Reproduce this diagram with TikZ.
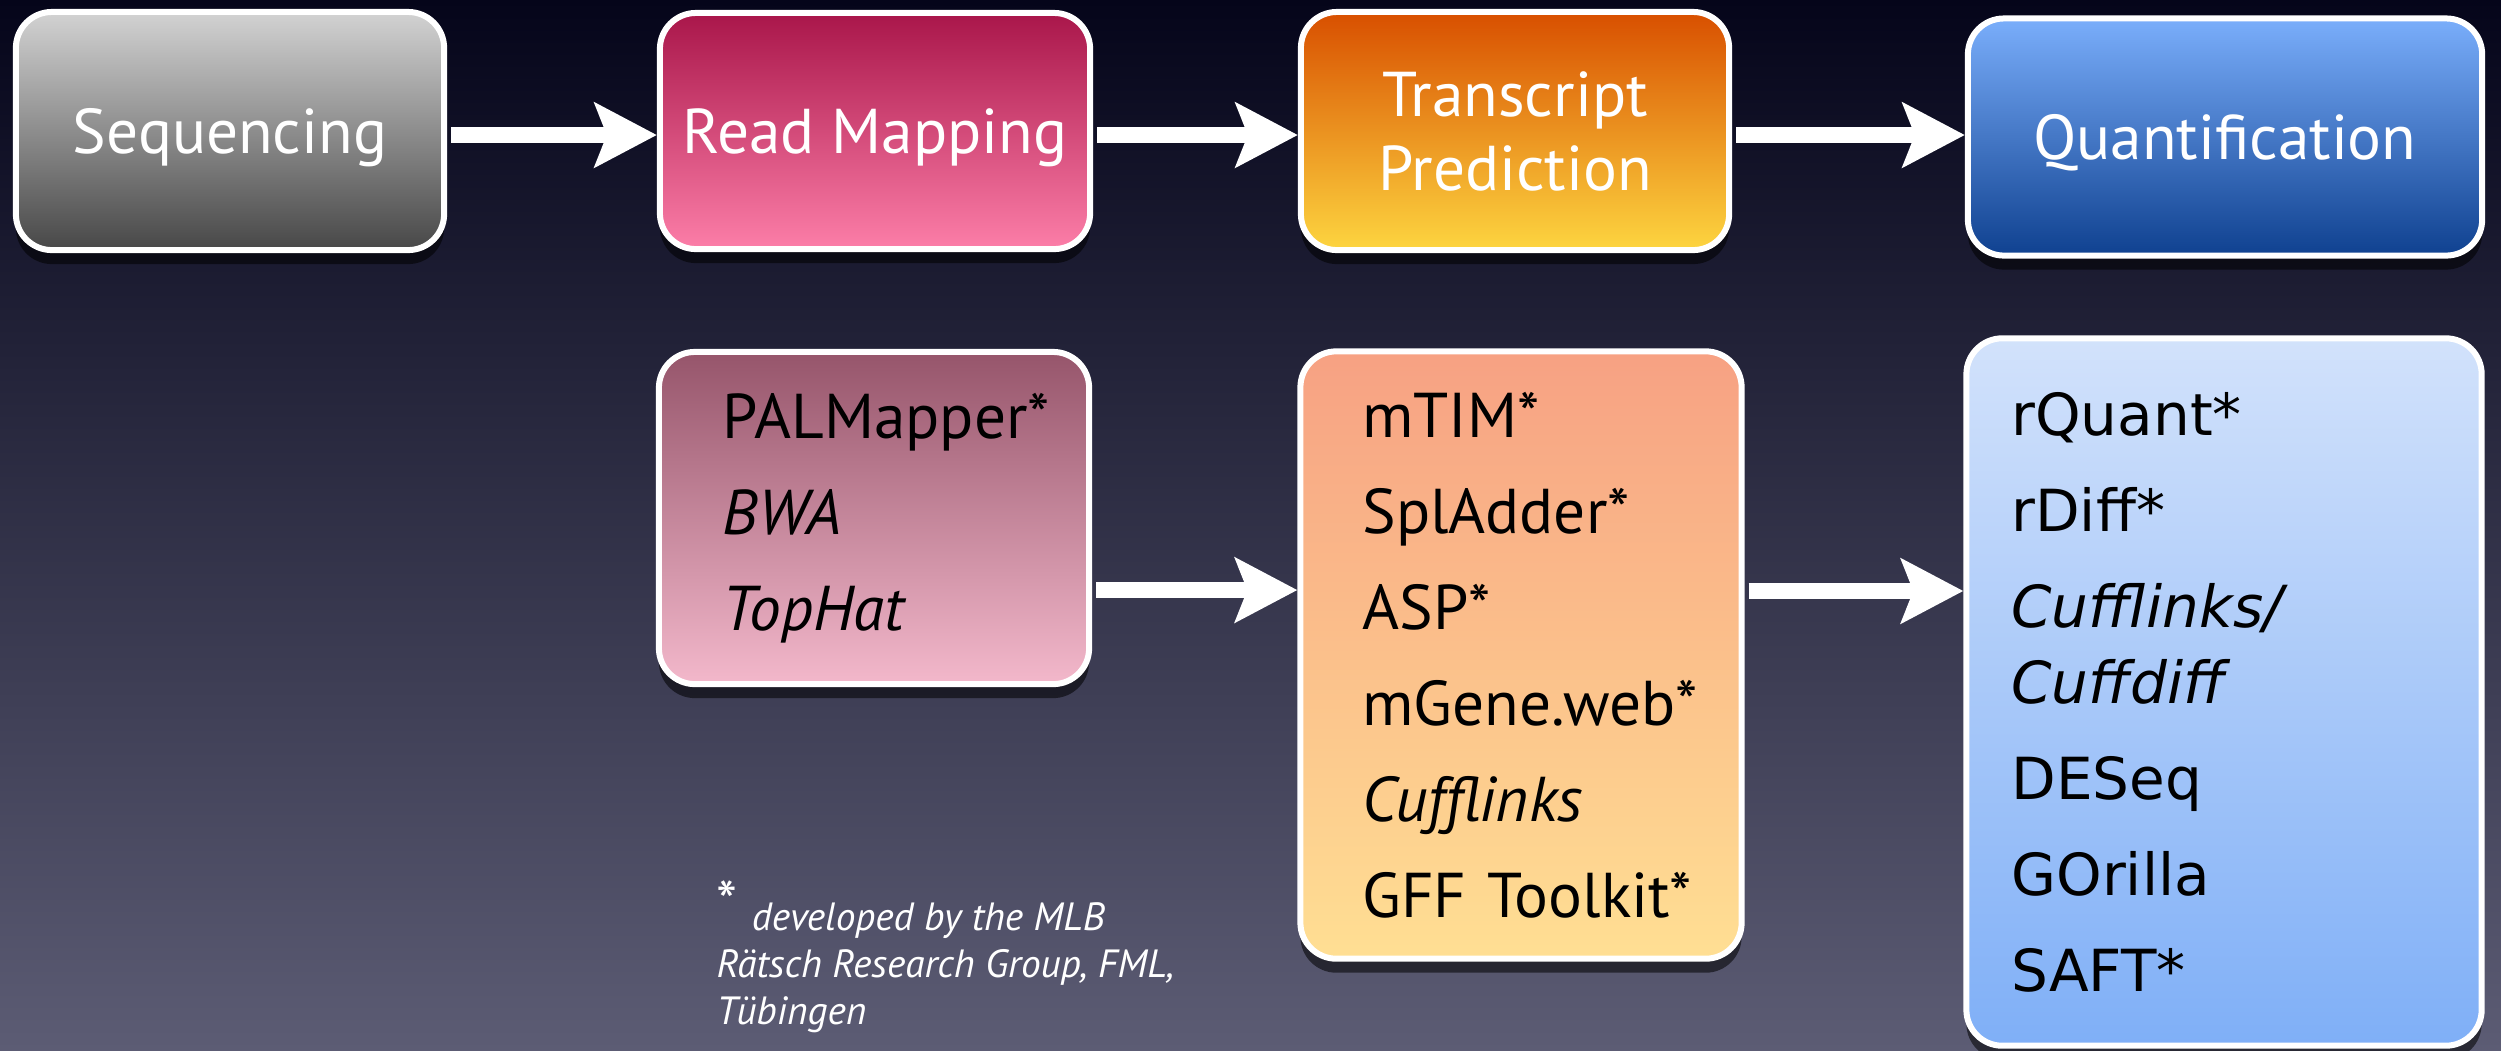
\documentclass[tikz,border=0pt]{standalone}
\usepackage{fontspec}
\setmainfont{PT Sans}
\newfontfamily\quantfamily{DejaVu Sans}
\usetikzlibrary{arrows.meta, calc, shadows}

\definecolor{bgtop}{HTML}{05051A}
\definecolor{bgmid}{HTML}{34344F}
\definecolor{bgbot}{HTML}{5C5C74}
\newcommand{\stagefont}{\fontsize{18}{21}\selectfont}
\newcommand{\toolfont}{\fontsize{18}{27.3}\selectfont}
\newcommand{\quantfont}{\quantfamily\fontsize{16.5}{27.3}\selectfont}
\newcommand{\notefont}{\fontsize{11.2}{13.4}\selectfont\itshape}

\begin{document}
\begin{tikzpicture}[x=0.01cm, y=-0.01cm, >=Stealth, line join=round,
	stage/.style={draw=white, line width=0.06cm, rounded corners=0.36cm, inner sep=0pt,
		text=white, align=center, font=\stagefont, text depth=0pt,
		drop shadow={shadow xshift=0cm, shadow yshift=-0.14cm, opacity=0.55, fill=black}},
	tools/.style={stage, text=black, align=left, font=\toolfont, text depth=},
	flow/.style={draw=white, line width=0.16cm, line cap=butt, shorten <=0.04cm,
		-{Stealth[length=0.62cm, width=0.64cm, inset=0.12cm]}}]

%========================
% background
%========================
\path[use as bounding box, top color=bgtop, middle color=bgmid, bottom color=bgbot]
	(0,0) rectangle (2501,1050);

%========================
% top row: pipeline stages
%========================
\node[stage, minimum width=4.28cm, minimum height=2.38cm,
	top color=gray!35, bottom color=black!72] (seq) at (230,131) {Sequencing};
\node[stage, minimum width=4.30cm, minimum height=2.36cm,
	top color={rgb,255:red,169;green,22;blue,74}, bottom color={rgb,255:red,252;green,126;blue,168}]
	(map) at (875,131) {Read Mapping};
\node[stage, minimum width=4.28cm, minimum height=2.38cm,
	top color={rgb,255:red,216;green,79;blue,0}, bottom color={rgb,255:red,253;green,213;blue,64}]
	(pred) at (1515,131) {Transcript\\Prediction};
\node[stage, minimum width=5.14cm, minimum height=2.37cm,
	top color={rgb,255:red,122;green,174;blue,251}, bottom color={rgb,255:red,15;green,65;blue,144}]
	(quant) at (2225,137) {Quantification};

% arrows between stages
\draw[flow] ([yshift=-0.04cm]seq.east) -- ([yshift=-0.04cm]seq.east -| map.west);
\draw[flow] ([yshift=-0.04cm]map.east) -- ([yshift=-0.04cm]map.east -| pred.west);
\draw[flow] ([yshift=-0.04cm]pred.east) -- ([yshift=-0.04cm]pred.east -| quant.west);

%========================
% bottom row: tools
%========================
\node[tools, minimum width=4.30cm, minimum height=3.32cm, text width=3.02cm, inner xsep=0.64cm,
	top color={rgb,255:red,150;green,85;blue,107}, bottom color={rgb,255:red,243;green,184;blue,203}]
	(maptools) at (874,518) {PALMapper*\\\textit{BWA}\\\textit{TopHat}};
\node[tools, minimum width=4.41cm, minimum height=6.07cm, text width=3.17cm, inner xsep=0.62cm,
	top color={rgb,255:red,247;green,161;blue,131}, bottom color={rgb,255:red,255;green,223;blue,147}]
	(predtools) at (1521,655)
	{mTIM*\\SplAdder*\\ASP*\\mGene.web*\\\textit{Cufflinks}\\GFF~Toolkit*};
\node[tools, minimum width=5.15cm, minimum height=7.07cm, text width=4.25cm, inner xsep=0.45cm,
	font=\quantfont,
	top color={rgb,255:red,210;green,226;blue,251}, bottom color={rgb,255:red,127;green,175;blue,247}]
	(quanttools) at (2224,692)
	{rQuant*\\rDiff*\\\textit{Cufflinks/}\\[-5.7pt]\textit{Cuffdiff}\\DESeq\\GOrilla\\SAFT*};

% arrows between tool boxes
\draw[flow] ([yshift=-0.72cm]maptools.east) -- ([yshift=-0.72cm]maptools.east -| predtools.west);
\draw[flow] ([yshift=0.64cm]predtools.east) -- ([yshift=0.64cm]predtools.east -| quanttools.west);

%========================
% footnote
%========================
\node[anchor=north west, inner sep=0pt, align=left, text=white, font=\notefont] (note) at (716,880)
	{\raisebox{2pt}{\upshape\fontsize{17}{17}\selectfont *}\hspace{4pt}developed by the MLB\\
	Rätsch Research Group, FML,\\Tübingen};

\end{tikzpicture}
\end{document}
